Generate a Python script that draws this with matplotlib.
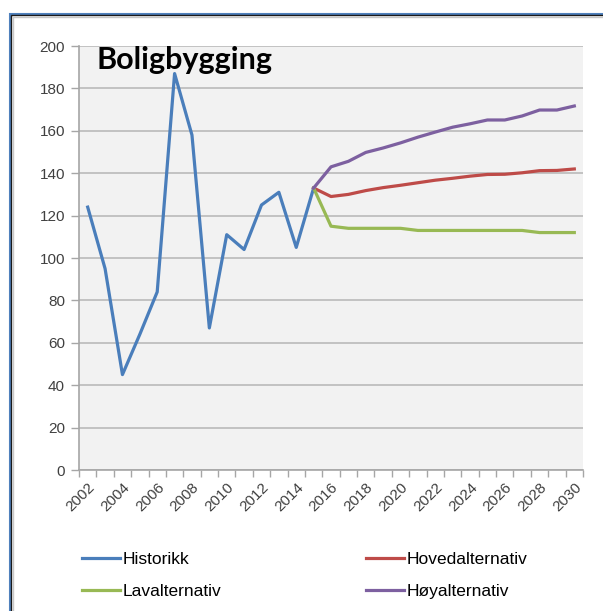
import matplotlib.pyplot as plt
from matplotlib.patches import Rectangle
from matplotlib.lines import Line2D

hist_years = list(range(2002, 2016))
historikk = [124, 95, 45, 64, 84, 187, 158, 67, 111, 104, 125, 131, 105, 133]

prog_years = list(range(2015, 2031))
hoved = [133, 129, 130, 131.8, 133.2, 134.3, 135.5, 136.7, 137.6, 138.6, 139.4, 139.5, 140.2, 141.2, 141.3, 142]
lav = [133, 115, 114, 114, 114, 114, 113, 113, 113, 113, 113, 113, 113, 112, 112, 112]
hoy = [133, 143, 145.6, 149.8, 151.9, 154.3, 157, 159.4, 161.7, 163.3, 165.1, 165.1, 167, 169.8, 169.8, 171.7]

blue = '#4A7EBB'
red = '#BE4B48'
green = '#98B954'
purple = '#7D60A0'

W, H = 603, 611
fig = plt.figure(figsize=(W / 100, H / 100), dpi=100)

# frame around the chart (runs off right and bottom edges)
def px_rect(x, y, w, h, **kw):
    r = Rectangle((x / W, 1 - (y + h) / H), w / W, h / H, transform=fig.transFigure, fill=False, **kw)
    fig.patches.append(r)

px_rect(9.5, 13.5, 700, 700, edgecolor='#4F81BD', lw=1.5)
px_rect(11, 15, 700, 700, edgecolor='#1a1a1a', lw=1.0)
px_rect(13, 17, 700, 700, edgecolor='#c8c8c8', lw=1.0)

ax = fig.add_axes([79 / W, 1 - 470 / H, (583 - 79) / W, (470 - 46) / H])
ax.set_facecolor('#F2F2F2')

ax.plot(hist_years, historikk, color=blue, lw=2.3, label='Historikk', solid_joinstyle='round')
ax.plot(prog_years, hoved, color=red, lw=2.3, label='Hovedalternativ')
ax.plot(prog_years, lav, color=green, lw=2.3, label='Lavalternativ')
ax.plot(prog_years, hoy, color=purple, lw=2.3, label='Høyalternativ')

ax.set_xlim(2001.5, 2030.5)
ax.set_ylim(0, 200)
ax.set_yticks(range(0, 201, 20))
ax.yaxis.grid(True, color='#BFBFBF', lw=1.3)
ax.set_axisbelow(True)

# tick marks between categories, labels on even years
bounds = [y + 0.5 for y in range(2001, 2031)]
ax.set_xticks(bounds)
ax.set_xticklabels([])
ax.set_xticks(list(range(2002, 2031, 2)), minor=True)
ax.set_xticklabels([str(y) for y in range(2002, 2031, 2)], minor=True,
                   rotation=45, ha='right', rotation_mode='anchor')
ax.tick_params(axis='x', which='major', length=5, color='#A6A6A6', width=1)
ax.tick_params(axis='x', which='minor', length=0, pad=7)
ax.tick_params(axis='y', length=6, color='#A6A6A6', width=1, pad=4)
for lab in ax.get_xticklabels(minor=True) + ax.get_yticklabels():
    lab.set_fontfamily('Liberation Sans')
    lab.set_fontsize(11)
    lab.set_color('#404040')

for s in ['top', 'right']:
    ax.spines[s].set_visible(False)
ax.spines['left'].set_color('#A6A6A6')
ax.spines['bottom'].set_color('#A6A6A6')
ax.spines['left'].set_linewidth(1.2)
ax.spines['bottom'].set_linewidth(1.2)

ax.text(0.035, 1.0, 'Boligbygging', transform=ax.transAxes, ha='left', va='top',
        fontsize=22, fontweight='bold', family='Lato')

handles = [Line2D([], [], color=blue, lw=2.3), Line2D([], [], color=green, lw=2.3),
           Line2D([], [], color=red, lw=2.3), Line2D([], [], color=purple, lw=2.3)]
labels = ['Historikk', 'Lavalternativ', 'Hovedalternativ', 'Høyalternativ']
fig.legend(handles, labels, ncol=2, loc='upper left', bbox_to_anchor=(82 / W, 1 - 552 / H),
           frameon=False, prop={'family': 'Liberation Sans', 'size': 12.5},
           handlelength=2.2, handletextpad=0.15, columnspacing=8.3, labelspacing=0.95,
           borderpad=0, borderaxespad=0)

fig.savefig('out.png', dpi=100)
